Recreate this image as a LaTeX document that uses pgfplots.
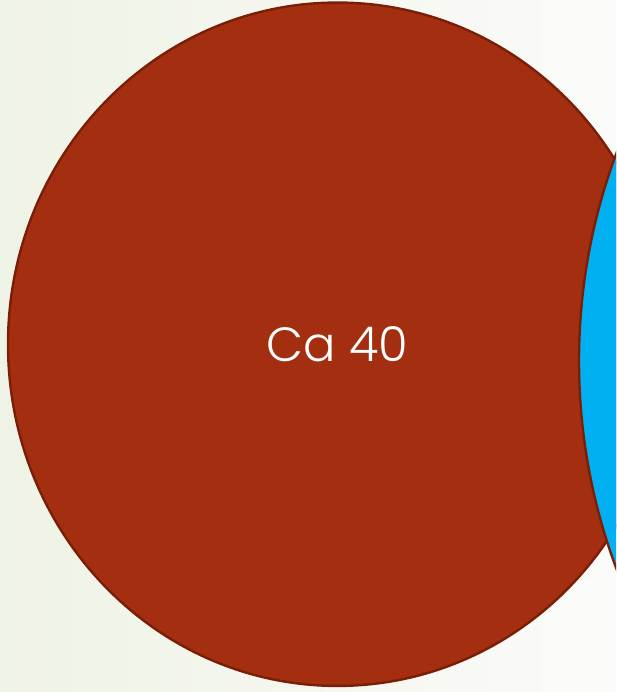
\documentclass[border=0pt]{standalone}
\usepackage{pgfplots}
\pgfplotsset{compat=1.18}
\usepackage{fontspec}
\setmainfont{Poppins}[UprightFont={* Light}]
\definecolor{bubred}{HTML}{A42F10}
\definecolor{bubedge}{HTML}{7A1E08}
\definecolor{bubblue}{HTML}{00B0F0}
\definecolor{bgleft}{HTML}{EFF3E5}
\definecolor{bgright}{HTML}{FBFBF9}
\begin{document}
\begin{tikzpicture}
\shade[left color=bgleft, right color=bgright] (0,0) rectangle (616pt,692pt);
\useasboundingbox (0,0) rectangle (616pt,692pt);
\clip (0,0) rectangle (616pt,692pt);
\begin{axis}[
    at={(0,0)}, anchor=south west,
    scale only axis, width=1800pt, height=692pt,
    xmin=0, xmax=1800, ymin=0, ymax=692,
    hide axis,
    clip marker paths=true,
]
% bubbles, 1 unit = 1pt; bubbles slightly stretched vertically as in the original
\addplot[only marks, mark=*, mark size=329.5pt,
    mark options={yscale=1.037, fill=bubred, draw=bubedge, line width=2.4pt},
    nodes near coords={Ca 40},
    every node near coord/.append style={anchor=center, text=white,
        font=\fontsize{48}{48}\selectfont, inner sep=0pt}]
    coordinates {(337.5,347.75)};
\addplot[only marks, mark=*, mark size=552.5pt,
    mark options={yscale=1.037, fill=bubblue, draw=bubedge, line width=2.4pt}]
    coordinates {(1131.5,331)};
\end{axis}
\end{tikzpicture}
\end{document}
